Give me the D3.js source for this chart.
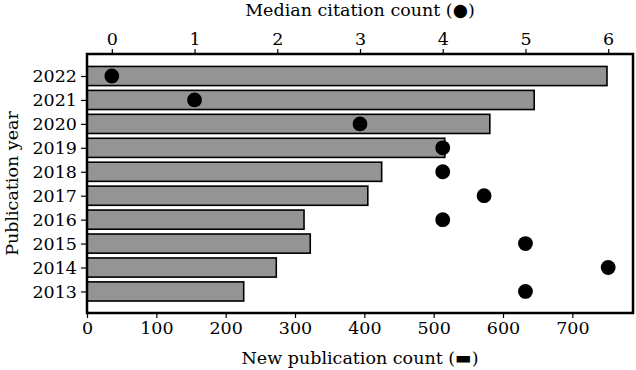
<!DOCTYPE html>
<html>
<head>
<meta charset="utf-8">
<script src="https://cdn.jsdelivr.net/npm/d3@7"></script>
<style>
  body { margin: 0; background: #fff; }
  svg text { font-family: "DejaVu Serif", serif; fill: #000; }
</style>
</head>
<body>
<div id="chart"></div>
<script>
var years = [2022, 2021, 2020, 2019, 2018, 2017, 2016, 2015, 2014, 2013];
var pubCounts = [750, 645, 581, 516, 425, 405, 313, 322, 273, 226];
var medianCitations = [0, 1, 3, 4, 4, 4.5, 4, 5, 6, 5];
var countTicks = [0, 100, 200, 300, 400, 500, 600, 700];
var citationTicks = [0, 1, 2, 3, 4, 5, 6];

(function() {
	var width = 636,
		height = 370;
	var margin = { left: 87, right: 3, top: 54, bottom: 57 };

	var svg = d3.select("#chart")
		.append("svg")
		.attr("width", width)
		.attr("height", height);

	var x = d3.scaleLinear().domain([0, 787.5]).range([margin.left, width - margin.right]);
	var x2 = d3.scaleLinear().domain([-0.3, 6.3]).range([margin.left, width - margin.right]);
	var y = d3.scaleLinear().domain([2022.92, 2012.1]).range([margin.top, height - margin.bottom]);

	var bandH = y(2012) - y(2013);

	// bars
	svg.selectAll(".bar")
		.data(years)
		.enter().append("rect")
		.attr("class", "bar")
		.attr("x", x(0))
		.attr("y", function(d) { return y(d) - bandH * 0.4; })
		.attr("width", function(d, i) { return x(pubCounts[i]) - x(0); })
		.attr("height", bandH * 0.8)
		.attr("fill", "#949494")
		.attr("stroke", "#000")
		.attr("stroke-width", 1.6);

	// dots
	svg.selectAll(".dot")
		.data(years)
		.enter().append("circle")
		.attr("class", "dot")
		.attr("cx", function(d, i) { return x2(medianCitations[i]); })
		.attr("cy", function(d) { return y(d); })
		.attr("r", 7.4)
		.attr("fill", "#000");

	var fs = "17.5px";

	var bottomAxis = svg.append("g")
		.attr("transform", "translate(0," + (height - margin.bottom) + ")")
		.call(d3.axisBottom(x).tickValues(countTicks).tickSize(5).tickPadding(4));
	var topAxis = svg.append("g")
		.attr("transform", "translate(0," + margin.top + ")")
		.call(d3.axisTop(x2).tickValues(citationTicks).tickFormat(d3.format("d")).tickSize(5).tickPadding(4));
	var leftAxis = svg.append("g")
		.attr("transform", "translate(" + margin.left + ",0)")
		.call(d3.axisLeft(y).tickValues(years).tickFormat(d3.format("d")).tickSize(6).tickPadding(4));

	[bottomAxis, topAxis, leftAxis].forEach(function(g) {
		g.select(".domain").remove();
		g.selectAll("text").style("font-size", fs).style("font-family", "DejaVu Serif");
		g.selectAll("line").attr("stroke", "#000").attr("stroke-width", 1.2);
	});

	// frame
	svg.append("rect")
		.attr("x", margin.left)
		.attr("y", margin.top)
		.attr("width", width - margin.right - margin.left)
		.attr("height", height - margin.bottom - margin.top)
		.attr("fill", "none")
		.attr("stroke", "#000")
		.attr("stroke-width", 2.5);

	svg.append("text")
		.attr("x", (margin.left + width - margin.right) / 2)
		.attr("y", 364)
		.attr("text-anchor", "middle")
		.style("font-size", fs)
		.text("New publication count (\u25AC)");

	svg.append("text")
		.attr("x", (margin.left + width - margin.right) / 2)
		.attr("y", 16)
		.attr("text-anchor", "middle")
		.style("font-size", fs)
		.text("Median citation count (\u25CF)");

	svg.append("text")
		.attr("transform", "translate(18," + ((margin.top + height - margin.bottom) / 2) + ") rotate(-90)")
		.attr("text-anchor", "middle")
		.style("font-size", fs)
		.text("Publication year");
}) ();
</script>
</body>
</html>
